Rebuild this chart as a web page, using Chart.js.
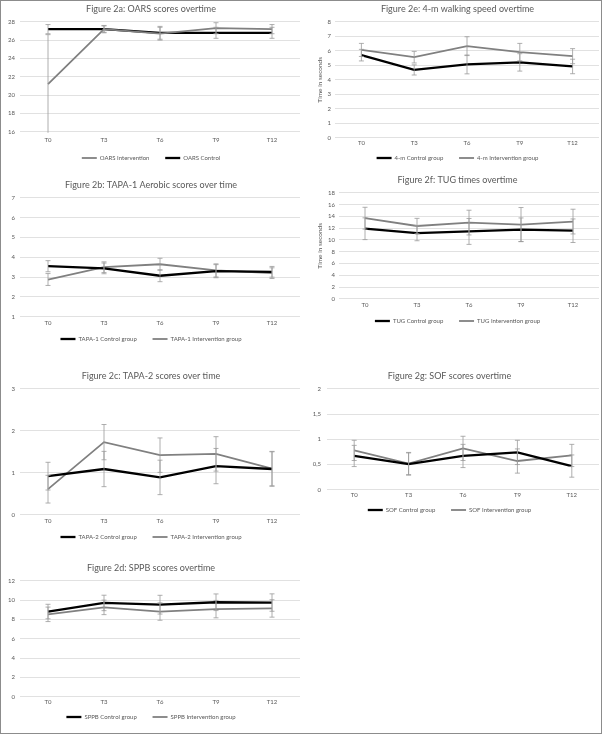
<!DOCTYPE html>
<html>
<head>
<meta charset="utf-8">
<script src="https://cdn.jsdelivr.net/npm/chart.js@4.4.1/dist/chart.umd.min.js"></script>
<style>
  body { margin: 0; background: #fff; }
  #frame { position: absolute; left: 0; top: 0; width: 600px; height: 732px; border: 1px solid #8c8c8c; }
  .panel { position: absolute; }
</style>
</head>
<body>
<div id="frame"></div>
<div class="panel" style="left:2px;top:0px"><canvas id="c2a" width="298" height="171"></canvas></div>
<div class="panel" style="left:2px;top:176px"><canvas id="c2b" width="298" height="176"></canvas></div>
<div class="panel" style="left:2px;top:367px"><canvas id="c2c" width="298" height="183"></canvas></div>
<div class="panel" style="left:2px;top:559px"><canvas id="c2d" width="298" height="171"></canvas></div>
<div class="panel" style="left:300px;top:0px"><canvas id="c2e" width="300" height="171"></canvas></div>
<div class="panel" style="left:300px;top:171px"><canvas id="c2f" width="300" height="163"></canvas></div>
<div class="panel" style="left:300px;top:367px"><canvas id="c2g" width="300" height="156"></canvas></div>
<script>
const timePoints = ["T0", "T3", "T6", "T9", "T12"];

// 2a OARS
const oarsIntervention = [21.2, 27.2, 26.7, 27.3, 27.2];
const oarsInterventionErr = [5.4, 0.4, 0.7, 0.6, 0.5];
const oarsControl = [27.2, 27.2, 26.8, 26.8, 26.8];
const oarsControlErr = [0.5, 0.35, 0.7, 0.6, 0.6];

// 2b TAPA-1
const tapa1Control = [3.55, 3.44, 3.07, 3.3, 3.27];
const tapa1ControlErr = [0.28, 0.27, 0.3, 0.33, 0.27];
const tapa1Intervention = [2.88, 3.5, 3.65, 3.34, 3.2];
const tapa1InterventionErr = [0.3, 0.27, 0.3, 0.33, 0.27];

// 2c TAPA-2
const tapa2Control = [0.92, 1.09, 0.89, 1.16, 1.09];
const tapa2ControlErr = [0.33, 0.42, 0.41, 0.42, 0.41];
const tapa2Intervention = [0.61, 1.73, 1.42, 1.45, 1.1];
const tapa2InterventionErr = [0.33, 0.42, 0.41, 0.41, 0.41];

// 2d SPPB
const sppbControl = [8.82, 9.71, 9.53, 9.78, 9.75];
const sppbControlErr = [0.75, 0.8, 0.97, 0.86, 0.9];
const sppbIntervention = [8.53, 9.25, 8.82, 9.07, 9.14];
const sppbInterventionErr = [0.75, 0.75, 0.9, 0.9, 0.9];

// 2e 4-m walk
const walkControl = [5.7, 4.68, 5.06, 5.2, 4.92];
const walkControlErr = [0.4, 0.35, 0.65, 0.6, 0.5];
const walkIntervention = [6.06, 5.56, 6.32, 5.91, 5.63];
const walkInterventionErr = [0.45, 0.4, 0.65, 0.6, 0.52];

// 2f TUG
const tugControl = [11.9, 11.16, 11.44, 11.73, 11.56];
const tugControlErr = [1.85, 1.3, 2.2, 2.0, 2.0];
const tugIntervention = [13.69, 12.36, 12.94, 12.6, 13.11];
const tugInterventionErr = [1.85, 1.3, 2.1, 2.9, 2.1];

// 2g SOF
const sofControl = [0.67, 0.51, 0.67, 0.74, 0.47];
const sofControlErr = [0.21, 0.22, 0.23, 0.24, 0.22];
const sofIntervention = [0.78, 0.52, 0.82, 0.57, 0.68];
const sofInterventionErr = [0.2, 0.22, 0.24, 0.24, 0.22];

const BLACK = "#000000";
const GRAY = "#808080";
const TEXT = "#595959";
const FONT = "Lato, 'Liberation Sans', sans-serif";

const errorBars = {
  id: "errorBars",
  afterDatasetsDraw(chart) {
    const ctx = chart.ctx;
    const y = chart.scales.y;
    const a = chart.chartArea;
    ctx.save();
    ctx.beginPath();
    ctx.rect(a.left, a.top - 1, a.right - a.left, a.bottom - a.top + 2);
    ctx.clip();
    ctx.strokeStyle = "#9a9a9a";
    ctx.lineWidth = 0.8;
    chart.data.datasets.forEach((ds, i) => {
      if (!ds.errors) return;
      chart.getDatasetMeta(i).data.forEach((pt, j) => {
        const v = ds.data[j];
        const e = ds.errors[j];
        const top = y.getPixelForValue(v + e);
        const bot = y.getPixelForValue(v - e);
        ctx.beginPath();
        ctx.moveTo(pt.x, top);
        ctx.lineTo(pt.x, bot);
        ctx.moveTo(pt.x - 2.5, top);
        ctx.lineTo(pt.x + 2.5, top);
        ctx.moveTo(pt.x - 2.5, bot);
        ctx.lineTo(pt.x + 2.5, bot);
        ctx.stroke();
      });
    });
    ctx.restore();
  },
};

function serie(label, data, errors, color) {
  return {
    label,
    data,
    errors,
    borderColor: color,
    backgroundColor: color,
    borderWidth: color === BLACK ? 2.3 : 1.8,
    pointRadius: 0,
    tension: 0,
    fill: false,
  };
}

// extra space after every legend entry except the last (Excel spaces them wider)
function legendLabels(chart) {
  const items = Chart.defaults.plugins.legend.labels.generateLabels(chart);
  return items.map((it, i) => (i < items.length - 1 ? { ...it, text: it.text + "\u2003\u2003\u2009" } : it));
}

// box: padLeft, padRight, yWidth, tickPad, xPad, yTitle, comma
function makeChart(id, title, datasets, yMin, yMax, step, box) {
  new Chart(document.getElementById(id), {
    type: "line",
    data: { labels: timePoints, datasets },
    plugins: [errorBars],
    options: {
      responsive: false,
      animation: false,
      devicePixelRatio: 1,
      layout: { padding: { left: box.padLeft, right: box.padRight, top: 0, bottom: 0 } },
      plugins: {
        tooltip: { enabled: false },
        title: {
          display: true,
          text: title,
          color: TEXT,
          font: { family: FONT, size: 9, weight: "normal" },
          padding: { top: 4, bottom: 7 },
        },
        legend: {
          position: "bottom",
          labels: {
            usePointStyle: true,
            pointStyle: "line",
            pointStyleWidth: 15,
            boxHeight: 6,
            padding: 6,
            color: TEXT,
            font: { family: FONT, size: 6 },
            generateLabels: legendLabels,
          },
        },
      },
      scales: {
        x: {
          offset: true,
          grid: { display: false, drawTicks: false },
          border: { display: false },
          ticks: { color: TEXT, font: { family: FONT, size: 6 }, padding: box.xPad },
        },
        y: {
          min: yMin,
          max: yMax,
          afterFit: (s) => { s.width = box.yWidth; },
          grid: { color: "#d9d9d9", lineWidth: 0.8, drawTicks: false },
          border: { display: false },
          title: {
            display: !!box.yTitle,
            text: box.yTitle || "",
            color: TEXT,
            font: { family: FONT, size: 6.5 },
            padding: 0,
          },
          ticks: {
            stepSize: step,
            autoSkip: false,
            color: TEXT,
            padding: box.tickPad,
            font: { family: FONT, size: 6 },
            callback: (v) => (box.comma ? String(v).replace(".", ",") : v),
          },
        },
      },
    },
  });
}

makeChart("c2a", "Figure 2a: OARS scores overtime", [
  serie("OARS Intervention", oarsIntervention, oarsInterventionErr, GRAY),
  serie("OARS Control", oarsControl, oarsControlErr, BLACK),
], 16, 28, 2, { padLeft: 0, padRight: 0, yWidth: 18, tickPad: 5, xPad: 5 });

makeChart("c2b", "Figure 2b: TAPA-1 Aerobic scores over time", [
  serie("TAPA-1 Control group", tapa1Control, tapa1ControlErr, BLACK),
  serie("TAPA-1 Intervention group", tapa1Intervention, tapa1InterventionErr, GRAY),
], 1, 7, 1, { padLeft: 0, padRight: 0, yWidth: 18, tickPad: 5, xPad: 3 });

makeChart("c2c", "Figure 2c: TAPA-2 scores over time", [
  serie("TAPA-2 Control group", tapa2Control, tapa2ControlErr, BLACK),
  serie("TAPA-2 Intervention group", tapa2Intervention, tapa2InterventionErr, GRAY),
], 0, 3, 1, { padLeft: 0, padRight: 0, yWidth: 18, tickPad: 5, xPad: 3 });

makeChart("c2d", "Figure 2d: SPPB scores overtime", [
  serie("SPPB Control group", sppbControl, sppbControlErr, BLACK),
  serie("SPPB Intervention group", sppbIntervention, sppbInterventionErr, GRAY),
], 0, 12, 2, { padLeft: 0, padRight: 0, yWidth: 18, tickPad: 5, xPad: 2 });

makeChart("c2e", "Figure 2e: 4-m walking speed overtime", [
  serie("4-m Control group", walkControl, walkControlErr, BLACK),
  serie("4-m Intervention group", walkIntervention, walkInterventionErr, GRAY),
], 0, 8, 1, { padLeft: 16, padRight: 1, yWidth: 19, tickPad: 4, xPad: 2, yTitle: "Time in seconds" });

makeChart("c2f", "Figure 2f: TUG times overtime", [
  serie("TUG Control group", tugControl, tugControlErr, BLACK),
  serie("TUG Intervention group", tugIntervention, tugInterventionErr, GRAY),
], 0, 18, 2, { padLeft: 16, padRight: 1, yWidth: 23, tickPad: 4, xPad: 3, yTitle: "Time in seconds" });

makeChart("c2g", "Figure 2g: SOF scores overtime", [
  serie("SOF Control group", sofControl, sofControlErr, BLACK),
  serie("SOF Intervention group", sofIntervention, sofInterventionErr, GRAY),
], 0, 2, 0.5, { padLeft: 0, padRight: 1, yWidth: 27, tickPad: 6, xPad: 2, comma: true });
</script>
</body>
</html>
